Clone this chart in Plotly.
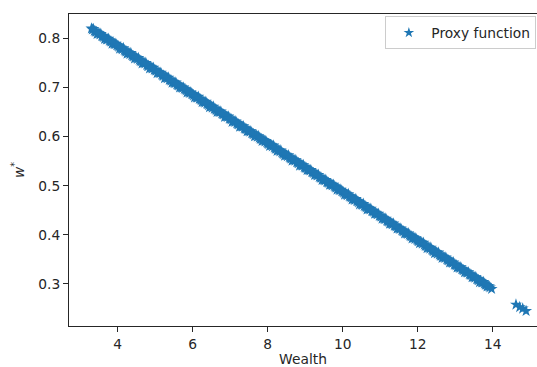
import plotly.graph_objects as go

# Optimal weight w* against wealth, as given by the proxy function
wealth_a = [
    3.30, 3.40, 3.50, 3.60, 3.70, 3.80, 3.90, 4.00, 4.10, 4.20,
    4.30, 4.40, 4.50, 4.60, 4.70, 4.80, 4.90, 5.00, 5.10, 5.20,
    5.30, 5.40, 5.50, 5.60, 5.70, 5.80, 5.90, 6.00, 6.10, 6.20,
    6.30, 6.40, 6.50, 6.60, 6.70, 6.80, 6.90, 7.00, 7.10, 7.20,
    7.30, 7.40, 7.50, 7.60, 7.70, 7.80, 7.90, 8.00, 8.10, 8.20,
    8.30, 8.40, 8.50, 8.60, 8.70, 8.80, 8.90, 9.00, 9.10, 9.20,
    9.30, 9.40, 9.50, 9.60, 9.70, 9.80, 9.90, 10.00, 10.10, 10.20,
    10.30, 10.40, 10.50, 10.60, 10.70, 10.80, 10.90, 11.00, 11.10, 11.20,
    11.30, 11.40, 11.50, 11.60, 11.70, 11.80, 11.90, 12.00, 12.10, 12.20,
    12.30, 12.40, 12.50, 12.60, 12.70, 12.80, 12.90, 13.00, 13.10, 13.20,
    13.30, 13.40, 13.50, 13.60, 13.70, 13.80, 13.90, 13.97,
    14.62, 14.72, 14.80, 14.89,
]
w_star_a = [
    0.820, 0.814, 0.810, 0.804, 0.798, 0.794, 0.789, 0.785, 0.779, 0.774,
    0.770, 0.764, 0.760, 0.754, 0.750, 0.744, 0.740, 0.735, 0.730, 0.724,
    0.720, 0.715, 0.710, 0.705, 0.700, 0.696, 0.690, 0.686, 0.680, 0.676,
    0.670, 0.666, 0.661, 0.656, 0.651, 0.646, 0.641, 0.636, 0.631, 0.626,
    0.621, 0.616, 0.611, 0.606, 0.602, 0.596, 0.592, 0.586, 0.582, 0.576,
    0.572, 0.566, 0.562, 0.556, 0.552, 0.547, 0.542, 0.537, 0.532, 0.527,
    0.522, 0.517, 0.512, 0.507, 0.502, 0.497, 0.492, 0.488, 0.482, 0.478,
    0.472, 0.468, 0.462, 0.458, 0.453, 0.448, 0.443, 0.438, 0.433, 0.428,
    0.423, 0.418, 0.413, 0.408, 0.403, 0.398, 0.394, 0.388, 0.384, 0.378,
    0.374, 0.368, 0.364, 0.358, 0.354, 0.349, 0.344, 0.339, 0.334, 0.329,
    0.324, 0.319, 0.314, 0.309, 0.304, 0.299, 0.295, 0.290,
    0.258, 0.253, 0.250, 0.245,
]
wealth_b = [
    3.35, 3.45, 3.55, 3.65, 3.75, 3.85, 3.95, 4.05, 4.15, 4.25,
    4.35, 4.45, 4.55, 4.65, 4.75, 4.85, 4.95, 5.05, 5.15, 5.25,
    5.35, 5.45, 5.55, 5.65, 5.75, 5.85, 5.95, 6.05, 6.15, 6.25,
    6.35, 6.45, 6.55, 6.65, 6.75, 6.85, 6.95, 7.05, 7.15, 7.25,
    7.35, 7.45, 7.55, 7.65, 7.75, 7.85, 7.95, 8.05, 8.15, 8.25,
    8.35, 8.45, 8.55, 8.65, 8.75, 8.85, 8.95, 9.05, 9.15, 9.25,
    9.35, 9.45, 9.55, 9.65, 9.75, 9.85, 9.95, 10.05, 10.15, 10.25,
    10.35, 10.45, 10.55, 10.65, 10.75, 10.85, 10.95, 11.05, 11.15, 11.25,
    11.35, 11.45, 11.55, 11.65, 11.75, 11.85, 11.95, 12.05, 12.15, 12.25,
    12.35, 12.45, 12.55, 12.65, 12.75, 12.85, 12.95, 13.05, 13.15, 13.25,
    13.35, 13.45, 13.55, 13.65, 13.75, 13.85,
]
w_star_b = [
    0.819, 0.809, 0.809, 0.799, 0.799, 0.789, 0.789, 0.779, 0.780, 0.769,
    0.770, 0.759, 0.760, 0.749, 0.750, 0.739, 0.740, 0.729, 0.730, 0.719,
    0.720, 0.710, 0.710, 0.700, 0.700, 0.690, 0.690, 0.680, 0.681, 0.670,
    0.671, 0.660, 0.661, 0.650, 0.651, 0.640, 0.641, 0.630, 0.631, 0.620,
    0.621, 0.611, 0.611, 0.601, 0.601, 0.591, 0.591, 0.581, 0.582, 0.571,
    0.572, 0.561, 0.562, 0.551, 0.552, 0.541, 0.542, 0.532, 0.532, 0.522,
    0.522, 0.512, 0.512, 0.502, 0.502, 0.492, 0.492, 0.482, 0.483, 0.472,
    0.473, 0.462, 0.463, 0.452, 0.453, 0.443, 0.443, 0.433, 0.433, 0.423,
    0.423, 0.413, 0.413, 0.403, 0.403, 0.393, 0.393, 0.383, 0.384, 0.373,
    0.374, 0.363, 0.364, 0.353, 0.354, 0.344, 0.344, 0.334, 0.334, 0.324,
    0.324, 0.314, 0.314, 0.304, 0.304, 0.295,
]
wealth_c = [
    3.325, 3.425, 3.525, 3.625, 3.725, 3.825, 3.925, 4.025, 4.125, 4.225,
    4.325, 4.425, 4.525, 4.625, 4.725, 4.825, 4.925, 5.025, 5.125, 5.225,
    5.325, 5.425, 5.525, 5.625, 5.725, 5.825, 5.925, 6.025, 6.125, 6.225,
    6.325, 6.425, 6.525, 6.625, 6.725, 6.825, 6.925, 7.025, 7.125, 7.225,
    7.325, 7.425, 7.525, 7.625, 7.725, 7.825, 7.925, 8.025, 8.125, 8.225,
    8.325, 8.425, 8.525, 8.625, 8.725, 8.825, 8.925, 9.025, 9.125, 9.225,
    9.325, 9.425, 9.525, 9.625, 9.725, 9.825, 9.925, 10.025, 10.125, 10.225,
    10.325, 10.425, 10.525, 10.625, 10.725, 10.825, 10.925, 11.025, 11.125, 11.225,
    11.325, 11.425, 11.525, 11.625, 11.725, 11.825, 11.925, 12.025, 12.125, 12.225,
    12.325, 12.425, 12.525, 12.625, 12.725, 12.825, 12.925, 13.025, 13.125, 13.225,
    13.325, 13.425, 13.525, 13.625, 13.725, 13.825, 13.925,
]
w_star_c = [
    0.818, 0.813, 0.808, 0.803, 0.798, 0.793, 0.788, 0.783, 0.778, 0.773,
    0.768, 0.763, 0.758, 0.753, 0.749, 0.744, 0.739, 0.734, 0.729, 0.724,
    0.719, 0.714, 0.709, 0.704, 0.699, 0.694, 0.689, 0.684, 0.679, 0.674,
    0.669, 0.664, 0.659, 0.654, 0.650, 0.645, 0.640, 0.635, 0.630, 0.625,
    0.620, 0.615, 0.610, 0.605, 0.600, 0.595, 0.590, 0.585, 0.580, 0.575,
    0.570, 0.565, 0.560, 0.555, 0.551, 0.546, 0.541, 0.536, 0.531, 0.526,
    0.521, 0.516, 0.511, 0.506, 0.501, 0.496, 0.491, 0.486, 0.481, 0.476,
    0.471, 0.466, 0.461, 0.456, 0.452, 0.447, 0.442, 0.437, 0.432, 0.427,
    0.422, 0.417, 0.412, 0.407, 0.402, 0.397, 0.392, 0.387, 0.382, 0.377,
    0.372, 0.367, 0.362, 0.357, 0.353, 0.348, 0.343, 0.338, 0.333, 0.328,
    0.323, 0.318, 0.313, 0.308, 0.303, 0.298, 0.293,
]
wealth_d = [
    3.375, 3.475, 3.575, 3.675, 3.775, 3.875, 3.975, 4.075, 4.175, 4.275,
    4.375, 4.475, 4.575, 4.675, 4.775, 4.875, 4.975, 5.075, 5.175, 5.275,
    5.375, 5.475, 5.575, 5.675, 5.775, 5.875, 5.975, 6.075, 6.175, 6.275,
    6.375, 6.475, 6.575, 6.675, 6.775, 6.875, 6.975, 7.075, 7.175, 7.275,
    7.375, 7.475, 7.575, 7.675, 7.775, 7.875, 7.975, 8.075, 8.175, 8.275,
    8.375, 8.475, 8.575, 8.675, 8.775, 8.875, 8.975, 9.075, 9.175, 9.275,
    9.375, 9.475, 9.575, 9.675, 9.775, 9.875, 9.975, 10.075, 10.175, 10.275,
    10.375, 10.475, 10.575, 10.675, 10.775, 10.875, 10.975, 11.075, 11.175, 11.275,
    11.375, 11.475, 11.575, 11.675, 11.775, 11.875, 11.975, 12.075, 12.175, 12.275,
    12.375, 12.475, 12.575, 12.675, 12.775, 12.875, 12.975, 13.075, 13.175, 13.275,
    13.375, 13.475, 13.575, 13.675, 13.775, 13.875,
]
w_star_d = [
    0.815, 0.810, 0.805, 0.800, 0.796, 0.791, 0.786, 0.781, 0.776, 0.771,
    0.766, 0.761, 0.756, 0.751, 0.746, 0.741, 0.736, 0.731, 0.726, 0.721,
    0.716, 0.711, 0.706, 0.701, 0.697, 0.692, 0.687, 0.682, 0.677, 0.672,
    0.667, 0.662, 0.657, 0.652, 0.647, 0.642, 0.637, 0.632, 0.627, 0.622,
    0.617, 0.612, 0.607, 0.602, 0.598, 0.593, 0.588, 0.583, 0.578, 0.573,
    0.568, 0.563, 0.558, 0.553, 0.548, 0.543, 0.538, 0.533, 0.528, 0.523,
    0.518, 0.513, 0.508, 0.503, 0.499, 0.494, 0.489, 0.484, 0.479, 0.474,
    0.469, 0.464, 0.459, 0.454, 0.449, 0.444, 0.439, 0.434, 0.429, 0.424,
    0.419, 0.414, 0.409, 0.404, 0.400, 0.395, 0.390, 0.385, 0.380, 0.375,
    0.370, 0.365, 0.360, 0.355, 0.350, 0.345, 0.340, 0.335, 0.330, 0.325,
    0.320, 0.315, 0.310, 0.306, 0.301, 0.296,
]
wealth = wealth_a + wealth_b + wealth_c + wealth_d
w_star = w_star_a + w_star_b + w_star_c + w_star_d

x_ticks = [4, 6, 8, 10, 12, 14]
y_ticks = [0.3, 0.4, 0.5, 0.6, 0.7, 0.8]

FONT = "DejaVu Sans"
INK = "#262626"
BLUE = "#1f77b4"
FS = 13.8

fig = go.Figure()
fig.add_trace(go.Scatter(
    x=wealth, y=w_star, mode="markers", name="Proxy function", showlegend=False,
    marker=dict(symbol="star", size=9, color=BLUE, line=dict(width=0)),
))
# legend entry with the smaller key marker
fig.add_trace(go.Scatter(
    x=[None], y=[None], mode="markers", name="Proxy function",
    marker=dict(symbol="star", size=8, color=BLUE, line=dict(width=0)),
))

axis_common = dict(
    showgrid=False, zeroline=False, showline=True, linecolor=INK, linewidth=1,
    ticks="outside", ticklen=5, tickwidth=1, tickcolor=INK,
    tickfont=dict(family=FONT, size=FS, color=INK),
)

fig.update_layout(
    width=537, height=367,
    margin=dict(l=69, r=0, t=14, b=41),
    paper_bgcolor="white", plot_bgcolor="white",
    font=dict(family=FONT, size=FS, color=INK),
    xaxis=dict(
        range=[2.701, 15.181], tickvals=x_ticks, ticktext=[str(v) for v in x_ticks],
        mirror=True,
        title=dict(text="Wealth", font=dict(family=FONT, size=FS, color=INK), standoff=6),
        **axis_common,
    ),
    yaxis=dict(
        range=[0.2145, 0.8495], tickvals=y_ticks, ticktext=[f"{v:.1f}" for v in y_ticks],
        title=dict(text="<i>w</i><sup>*</sup>", font=dict(family=FONT, size=FS, color=INK), standoff=10),
        **axis_common,
    ),
    legend=dict(
        x=0.676, y=0.993, xanchor="left", yanchor="top", itemwidth=35,
        bgcolor="rgba(255,255,255,0.8)", bordercolor="#cccccc", borderwidth=1,
        font=dict(family=FONT, size=FS, color=INK),
    ),
    showlegend=True,
)

fig.write_html("out.html")
